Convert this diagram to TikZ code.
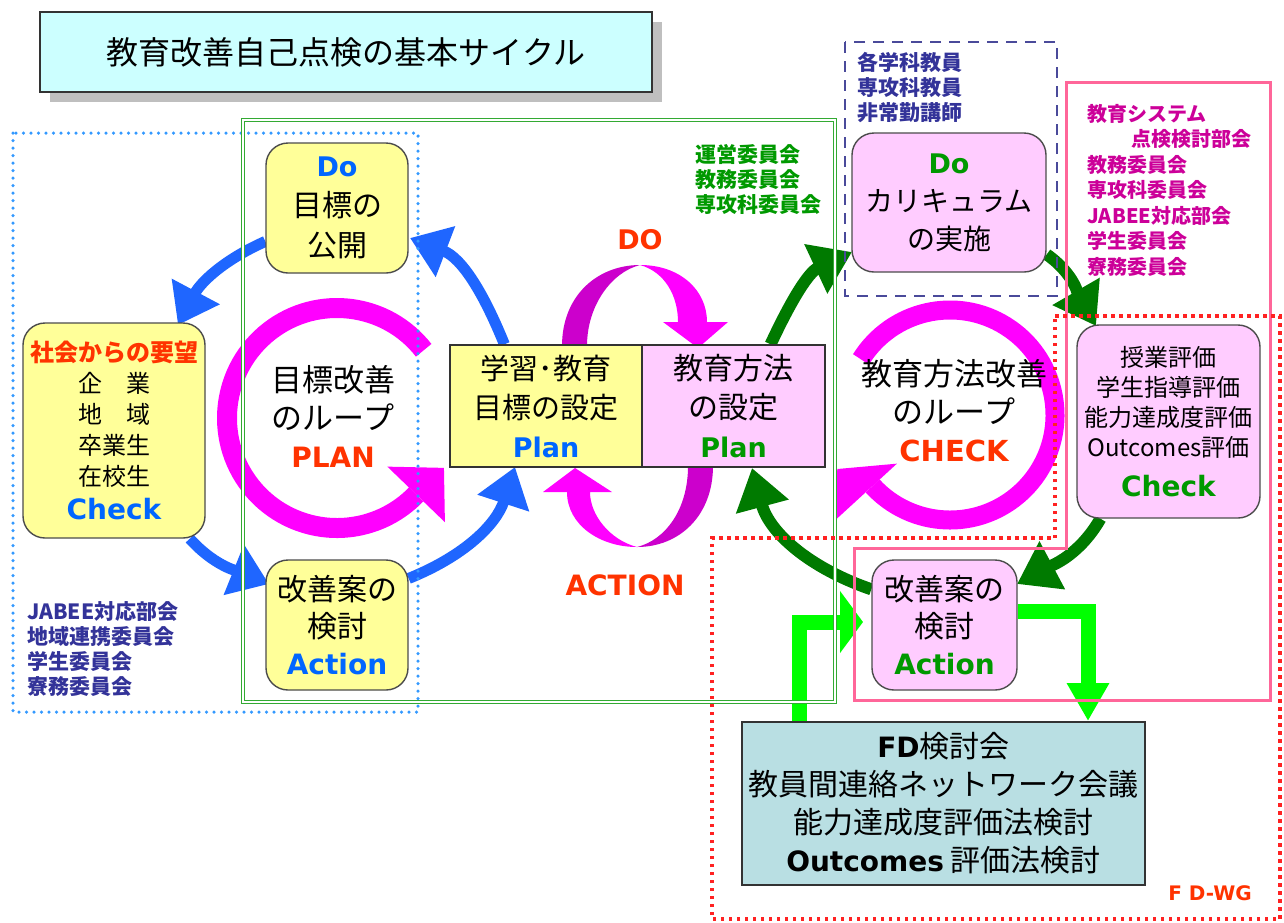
\documentclass[tikz,border=0pt]{standalone}
\usepackage{fontspec}
\setmainfont{Noto Sans CJK JP}
\newfontfamily\lat{DejaVu Sans}
\usetikzlibrary{arrows.meta}
\definecolor{arrB}{HTML}{1F66FF}
\definecolor{blueT}{HTML}{0066FF}
\definecolor{redT}{HTML}{FF3300}
\definecolor{greenT}{HTML}{009900}
\definecolor{arrG}{HTML}{007A00}
\definecolor{mag}{HTML}{FF00FF}
\definecolor{dmag}{HTML}{CC00CC}
\definecolor{yelF}{HTML}{FFFF99}
\definecolor{pinkF}{HTML}{FFCCFF}
\definecolor{cyanF}{HTML}{CCFFFF}
\definecolor{fdF}{HTML}{B9DFE3}
\definecolor{navyT}{HTML}{333399}
\definecolor{magT}{HTML}{CC0099}
\definecolor{pinkL}{HTML}{FF6699}
\definecolor{redD}{HTML}{FF2222}
\definecolor{dotB}{HTML}{3399FF}
\definecolor{limeA}{HTML}{00FF00}
\definecolor{frG}{HTML}{33AA33}
\definecolor{navyD}{HTML}{4A4A9A}
\newcommand\Bt[3]{{\lat\bfseries\fontsize{#2}{#2}\selectfont\textcolor{#1}{#3}}}
\pgfdeclarelayer{bg}\pgfdeclarelayer{fr}\pgfsetlayers{bg,fr,main}

\begin{document}
\begin{tikzpicture}[x=1pt,y=1pt,
  rbox/.style={draw=black!70, line width=1.4pt, rounded corners=22pt, align=center, inner sep=0pt},
  sbox/.style={draw=black!80, line width=1.4pt, align=center, inner sep=0pt},
  barrow/.style={line width=11pt, draw=arrB, -{Triangle[length=38pt,width=52pt]}},
  garrow/.style={line width=12pt, draw=arrG, -{Triangle[length=40pt,width=52pt]}},
  limeL/.style={line width=15pt, draw=limeA, -{Triangle[length=23pt,width=61pt]}},
  limeR/.style={line width=15pt, draw=limeA, -{Triangle[length=38pt,width=40pt]}},
  comm/.style={anchor=north west, align=left, inner sep=0pt},
  lbl/.style={inner sep=0pt}
  ]
\useasboundingbox (0,0) rectangle (1284,-922);
\begin{pgfonlayer}{bg}
\fill[white] (0,0) rectangle (1284,-922);
\end{pgfonlayer}

% title
\fill[black!25] (50,-22) rectangle (662,-102);
\node[sbox, fill=cyanF, minimum width=612pt, minimum height=80pt, font=\fontsize{32}{32}\selectfont] (title) at (346,-52) {教育改善自己点検の基本サイクル};

% boxes
\node[rbox, fill=yelF, minimum width=142pt, minimum height=130pt, font=\fontsize{30}{40}\selectfont] (doL) at (337,-208) {\Bt{blueT}{27}{Do}\\目標の\\公開};
\node[rbox, fill=yelF, minimum width=182pt, minimum height=215pt, font=\fontsize{24}{31}\selectfont] (socL) at (114,-430.5) {{\bfseries\color{redT}社会からの要望}\\企　業\\地　域\\卒業生\\在校生\\[3pt]\Bt{blueT}{28}{Check}};
\node[rbox, fill=yelF, minimum width=142pt, minimum height=130pt, font=\fontsize{30}{37}\selectfont] (actL) at (337,-625) {改善案の\\検討\\\Bt{blueT}{28}{Action}};
\node[sbox, fill=yelF, minimum width=192pt, minimum height=122pt, font=\fontsize{29}{39}\selectfont] (planY) at (546,-406) {学習･教育\\目標の設定\\\Bt{blueT}{27}{Plan}};
\node[sbox, fill=pinkF, minimum width=183pt, minimum height=122pt, font=\fontsize{30}{39}\selectfont] (planP) at (733.5,-406) {教育方法\\の設定\\\Bt{greenT}{27}{Plan}};
\node[rbox, fill=pinkF, minimum width=194pt, minimum height=139pt, font=\fontsize{28}{38}\selectfont] (doP) at (949,-202.5) {\Bt{greenT}{27}{Do}\\カリキュラム\\の実施};
\node[rbox, fill=pinkF, minimum width=183pt, minimum height=193pt, font=\fontsize{24}{30}\selectfont] (chk) at (1168.5,-421.5) {授業評価\\学生指導評価\\能力達成度評価\\Outcomes評価\\[10pt]\Bt{greenT}{28}{Check}};
\node[rbox, fill=pinkF, minimum width=145pt, minimum height=130pt, font=\fontsize{30}{37}\selectfont] (actP) at (944.5,-625) {改善案の\\検討\\\Bt{greenT}{28}{Action}};
\node[sbox, fill=fdF, minimum width=403pt, minimum height=163pt, font=\fontsize{30}{38}\selectfont] (fd) at (943.5,-803.5) {\Bt{black}{28}{FD}検討会\\教員間連絡ネットワーク会議\\能力達成度評価法検討\\\Bt{black}{28}{Outcomes} 評価法検討};

% loop labels
\node[lbl, align=center, font=\fontsize{31}{38}\selectfont] (loopL) at (333,-416) {目標改善\\のループ\\\Bt{redT}{28}{PLAN}};
\node[lbl, align=center, font=\fontsize{31}{38}\selectfont] (loopR) at (954,-411) {教育方法改善\\のループ\\\Bt{redT}{29}{CHECK}};
\node[lbl] (doLbl) at (640,-240) {\Bt{redT}{27}{DO}};
\node[lbl] (actLbl) at (625,-585) {\Bt{redT}{28}{ACTION}};

% committee texts
\node[comm, font=\bfseries\fontsize{21}{25}\selectfont, text=navyT] (comL) at (27,-601) {JABEE対応部会\\地域連携委員会\\学生委員会\\寮務委員会};
\node[comm, font=\bfseries\fontsize{21}{25}\selectfont, text=greenT] (comG) at (695,-144) {運営委員会\\教務委員会\\専攻科委員会};
\node[comm, font=\bfseries\fontsize{21}{25}\selectfont, text=navyT] (comN) at (857,-52) {各学科教員\\専攻科教員\\非常勤講師};
\node[comm, font=\bfseries\fontsize{20}{25.5}\selectfont, text=magT] (comM) at (1087,-104) {教育システム\\\hspace*{44pt}点検検討部会\\教務委員会\\専攻科委員会\\JABEE対応部会\\学生委員会\\寮務委員会};
\node[lbl, font=\lat\bfseries\fontsize{20}{20}\selectfont, text=redT] (fdwg) at (1210,-893) {F D-WG};

% coordinates of arrow tips
\coordinate (t1) at (178,-325);
\coordinate (t2) at (269,-584);
\coordinate (t3) at (515,-467);
\coordinate (t4) at (410,-238);
\coordinate (t5) at (852,-252);
\coordinate (t6) at (1096,-326);
\coordinate (t7) at (1017,-584);
\coordinate (t8) at (752,-468);
\coordinate (t9) at (863,-622);
\coordinate (t10) at (1088,-721);

\begin{pgfonlayer}{bg}
% magenta loops
\draw[mag, line width=20pt] ([shift={(38:110)}]337,-418) arc[start angle=38, end angle=316, radius=110pt];
\fill[mag, shift={(337,-418)}] (316:70) -- (316:150) -- (335:118) -- cycle;
\draw[mag, line width=19pt] ([shift={(148:105)}]950,-415) arc[start angle=148, end angle=-137.5, radius=105pt];
\fill[mag, shift={(950,-415)}] (222.5:72) -- (222.5:155) -- (205.6:125) -- cycle;
% DO ribbon
\fill[dmag] (562,-346) .. controls (562,-295) and (598,-265) .. (640,-265) .. controls (612,-272) and (587,-305) .. (587,-346) -- cycle;
\fill[mag] (640,-265) .. controls (680,-265) and (707,-290) .. (707,-322) -- (728,-322) -- (698,-348) -- (663,-322) -- (678,-322) .. controls (678,-296) and (665,-272) .. (640,-265) -- cycle;
% ACTION ribbon
\fill[dmag] (713,-466) .. controls (713,-515) and (680,-547) .. (637,-547) .. controls (665,-540) and (688,-510) .. (688,-466) -- cycle;
\fill[mag] (637,-547) .. controls (600,-547) and (567,-525) .. (567,-492) -- (543,-492) -- (575,-468) -- (612,-492) -- (590,-492) .. controls (590,-515) and (610,-540) .. (637,-547) -- cycle;
% blue arrows
\draw[barrow] (doL.205) to[out=204, in=62] (t1);
\draw[barrow] (socL.-55) to[out=312, in=158] (t2);
\draw[barrow] (actL.33) to[out=22, in=252] (t3);
\draw[barrow] (planY.124) to[out=112, in=339] (t4);
% green arrows
\draw[garrow] (planP.59) to[out=65, in=205] (t5);
\draw[garrow] (doP.-28) to[out=-35, in=120] (t6);
\draw[garrow] (chk.235) to[out=240, in=28] (t7);
\draw[garrow] (actP.154) to[out=161, in=285] (t8);
% lime elbows
\draw[limeL] ([xshift=58pt]fd.north west) |- (t9);
\draw[limeR] ([yshift=14pt]actP.east) -| (t10);
\end{pgfonlayer}

\begin{pgfonlayer}{fr}
\draw[dotB, line width=3.5pt, line cap=round, dash pattern=on 0pt off 7.5pt] (13,-133) rectangle (418,-712);
\draw[frG, line width=1.2pt, double=white, double distance=2pt] (243,-120) rectangle (835,-702);
\draw[navyD, line width=2.2pt, dash pattern=on 11pt off 8pt] (845,-42) rectangle (1057,-296);
\draw[pinkL, line width=3pt] (1066,-82) -- (1270,-82) -- (1270,-700) -- (854,-700) -- (854,-548) -- (1066,-548) -- cycle;
\draw[redD, line width=3.5pt, dash pattern=on 3.5pt off 4.5pt] (1055,-316) -- (1280,-316) -- (1280,-919) -- (712,-919) -- (712,-538) -- (1055,-538) -- cycle;
\end{pgfonlayer}
\end{tikzpicture}
\end{document}
